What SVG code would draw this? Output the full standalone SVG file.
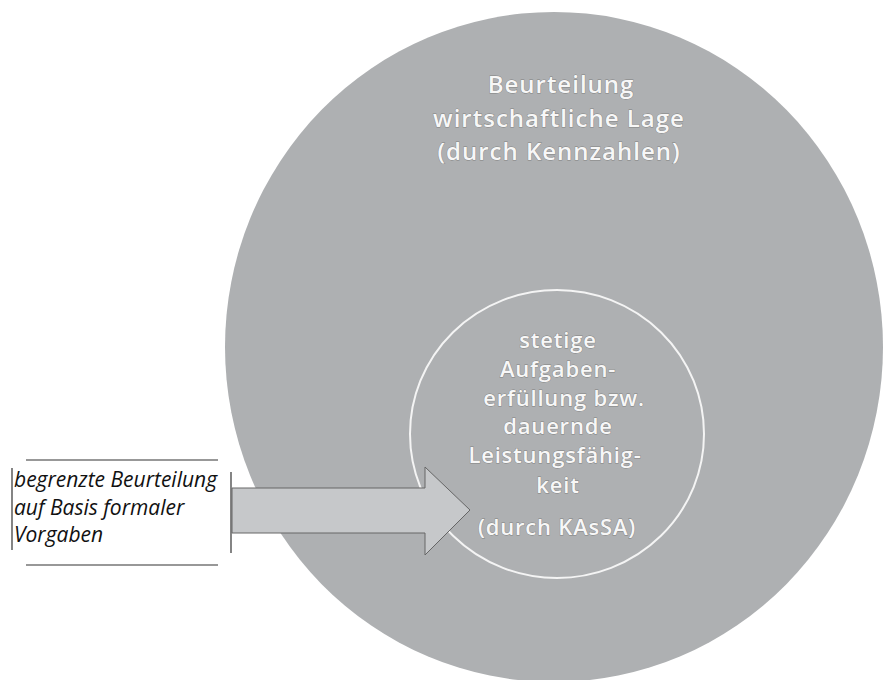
<svg xmlns="http://www.w3.org/2000/svg" width="883" height="680" viewBox="0 0 883 680">
  <style>
    .halo { font-family: "Open Sans", "Noto Sans", sans-serif; font-weight: 600; fill: #f7f7f7; stroke: #808080; stroke-width: 0.8; paint-order: stroke; text-anchor: middle; }
    .big { font-size: 24px; letter-spacing: 1px; }
    .small { font-size: 22px; letter-spacing: 0.8px; }
    .note { font-family: "Open Sans", "Liberation Sans", sans-serif; font-size: 21px; font-style: italic; fill: #111111; }
    .frame { stroke: #333; stroke-width: 1.2; fill: none; }
  </style>
  <rect width="883" height="680" fill="#ffffff"/>

  <!-- outer circle: economic situation -->
  <g id="outer">
    <ellipse cx="554" cy="347" rx="329" ry="335" fill="#aeb0b2"/>
    <text class="halo big" x="561" y="93">Beurteilung</text>
    <text class="halo big" x="559" y="127">wirtschaftliche Lage</text>
    <text class="halo big" x="559" y="160">(durch Kennzahlen)</text>
  </g>

  <!-- inner circle: continuous task fulfilment -->
  <g id="inner">
    <ellipse cx="557" cy="434" rx="147" ry="144" fill="none" stroke="#f4f4f4" stroke-width="2"/>
    <text class="halo small" x="558" y="348">stetige</text>
    <text class="halo small" x="558" y="377">Aufgaben-</text>
    <text class="halo small" x="564" y="406">erfüllung bzw.</text>
    <text class="halo small" x="558" y="434">dauernde</text>
    <text class="halo small" x="555" y="463">Leistungsfähig-</text>
    <text class="halo small" x="558" y="493">keit</text>
    <text class="halo small" x="557" y="535">(durch KAsSA)</text>
  </g>

  <!-- left note box -->
  <g id="note">
    <rect x="12" y="460" width="219" height="105" fill="#ffffff"/>
    <line class="frame" x1="26" y1="460" x2="218" y2="460"/>
    <line class="frame" x1="26" y1="565" x2="218" y2="565"/>
    <line class="frame" x1="12" y1="468" x2="12" y2="550"/>
    <line class="frame" x1="231" y1="472" x2="231" y2="553"/>
    <text class="note" x="14" y="487">begrenzte Beurteilung</text>
    <text class="note" x="14" y="515">auf Basis formaler</text>
    <text class="note" x="14" y="542">Vorgaben</text>
  </g>

  <!-- block arrow into the inner circle -->
  <g id="connectors">
    <polygon points="232,488 425,488 425,467 470,510 425,555 425,533 232,533" fill="#c6c8ca" stroke="#666" stroke-width="1"/>
  </g>
</svg>
